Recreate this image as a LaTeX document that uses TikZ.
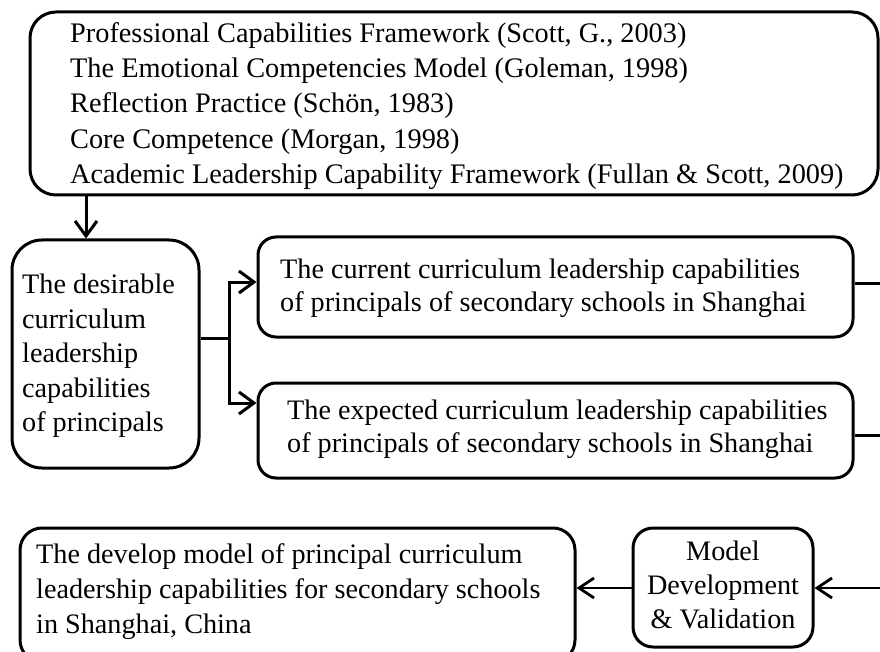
\documentclass[tikz,border=0pt]{standalone}
\usepackage{fontspec}
\setmainfont{Liberation Serif}
\usetikzlibrary{arrows.meta}
\begin{document}
\begin{tikzpicture}[x=1pt,y=-1pt,
  frame/.style={draw=black, line width=3pt, inner sep=0pt},
  txt/.style={inner sep=0pt, align=left, anchor=west},
  biglines/.style={font=\fontsize{28.3}{35.2}\selectfont},
  midlines/.style={font=\fontsize{28.2}{34.5}\selectfont},
  thickarrow/.style={line width=3pt, -{Straight Barb[length=15pt,width=22pt,line width=3pt]}},
  thinarrow/.style={line width=2pt, -{Straight Barb[length=15pt,width=20pt,line width=2.8pt]}},
  thickline/.style={line width=3pt}]
\useasboundingbox (0,0) rectangle (880,652);
\clip (0,0) rectangle (880,652);

% Frames
\node[frame, rounded corners=26pt, minimum width=848pt, minimum height=183pt] (theory) at (454,103.5) {};
\node[frame, rounded corners=30pt, minimum width=187pt, minimum height=228pt] (desire) at (105.5,354) {};
\node[frame, rounded corners=18pt, minimum width=595pt, minimum height=100pt] (current) at (555.5,287) {};
\node[frame, rounded corners=18pt, minimum width=595pt, minimum height=95pt] (expected) at (555.5,430.5) {};
\node[frame, rounded corners=22pt, minimum width=555pt, minimum height=134pt] (result) at (297.5,595) {};
\node[frame, rounded corners=20pt, minimum width=180pt, minimum height=119pt] (model) at (723,587.5) {};

% Texts
\node[txt, biglines] (theorytext) at (70,106)
  {Professional Capabilities Framework (Scott, G., 2003)\\
   The Emotional Competencies Model (Goleman, 1998)\\
   Reflection Practice (Schön, 1983)\\
   Core Competence (Morgan, 1998)\\
   Academic Leadership Capability Framework (Fullan \& Scott, 2009)};
\node[txt, midlines] (desiretext) at (22,356)
  {The desirable\\ curriculum\\ leadership\\ capabilities\\ of principals};
\node[txt, midlines, font=\fontsize{28.2}{33}\selectfont] (currenttext) at (280,288)
  {The current curriculum leadership capabilities\\ of principals of secondary schools in Shanghai};
\node[txt, midlines, font=\fontsize{28.2}{33}\selectfont] (expectedtext) at (287,429)
  {The expected curriculum leadership capabilities\\ of principals of secondary schools in Shanghai};
\node[txt, midlines, font=\fontsize{28.2}{35}\selectfont] (resulttext) at (36,592)
  {The develop model of principal curriculum\\ leadership capabilities for secondary schools\\ in Shanghai, China};
\node[txt, midlines, align=center, anchor=center, font=\fontsize{28.2}{34}\selectfont] (modeltext) at (723,585)
  {Model\\ Development\\ \& Validation};

% Connectors
\coordinate (split) at (229,338);
\coordinate (curout) at (890,283);
\coordinate (expout) at (890,435);
\coordinate (feed) at (890,588);

\draw[thickarrow] (theory.south -| 86,0) -- (desire.north -| 86,0);
\draw[thickline] (desire.east |- split) -- (split);
\draw[thickarrow] (split) |- (current.west |- 0,282);
\draw[thickarrow] (split) |- (expected.west |- 0,403);
\draw[thickline] (current.east |- curout) -- (curout);
\draw[thickline] (expected.east |- expout) -- (expout);
\draw[thinarrow] (feed) -- (model.east |- feed);
\draw[thinarrow] (model.west |- feed) -- (result.east |- feed);
\end{tikzpicture}
\end{document}
